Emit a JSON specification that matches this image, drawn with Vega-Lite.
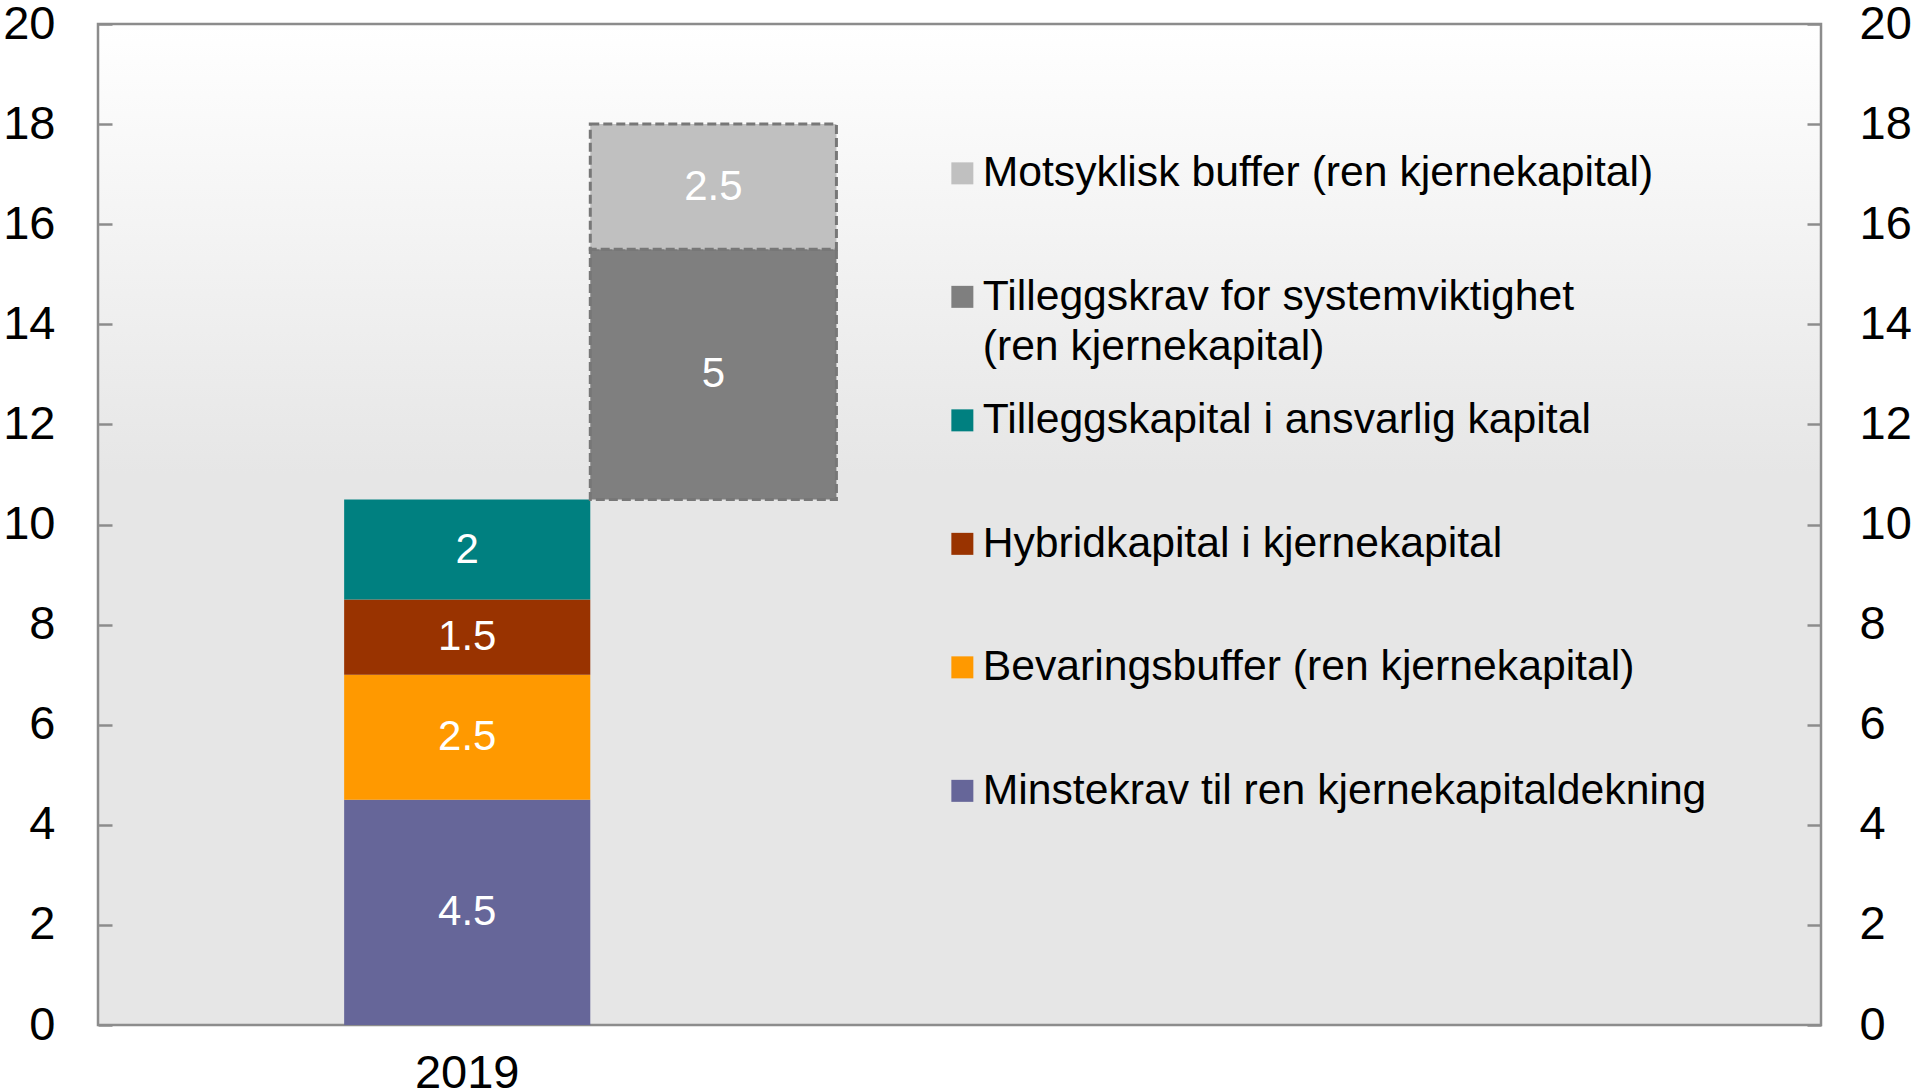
{
  "$schema": "https://vega.github.io/schema/vega-lite/v6.json",
  "autosize": {"type": "none"},
  "padding": {"left": 98, "top": 24, "right": 99, "bottom": 66},
  "width": 1723,
  "height": 1001,
  "background": "#FFFFFF",
  "data": {
    "values": [
      {"kategori": "2019", "serie": "Minstekrav til ren kjernekapitaldekning", "fra": 0, "til": 4.5, "verdi": 4.5},
      {"kategori": "2019", "serie": "Bevaringsbuffer (ren kjernekapital)", "fra": 4.5, "til": 7, "verdi": 2.5},
      {"kategori": "2019", "serie": "Hybridkapital i kjernekapital", "fra": 7, "til": 8.5, "verdi": 1.5},
      {"kategori": "2019", "serie": "Tilleggskapital i ansvarlig kapital", "fra": 8.5, "til": 10.5, "verdi": 2},
      {"kategori": "k2", "serie": "Tilleggskrav for systemviktighet (ren kjernekapital)", "fra": 10.5, "til": 15.5, "verdi": 5},
      {"kategori": "k2", "serie": "Motsyklisk buffer (ren kjernekapital)", "fra": 15.5, "til": 18, "verdi": 2.5}
    ]
  },
  "encoding": {
    "x": {
      "field": "kategori",
      "type": "nominal",
      "scale": {"domain": ["k0", "2019", "k2", "k3", "k4", "k5", "k6"], "paddingInner": 0, "paddingOuter": 0},
      "axis": {
        "title": null,
        "orient": "bottom",
        "ticks": false,
        "domain": false,
        "labelAngle": 0,
        "labelPadding": 25,
        "labelExpr": "datum.value == '2019' ? '2019' : ''"
      }
    }
  },
  "layer": [
    {
      "mark": {"type": "bar", "strokeWidth": 3, "strokeDash": [9, 4]},
      "encoding": {
        "y": {
          "field": "fra",
          "type": "quantitative",
          "scale": {"domain": [0, 20], "nice": false, "zero": true},
          "axis": {
            "title": null,
            "orient": "left",
            "values": [0, 2, 4, 6, 8, 10, 12, 14, 16, 18, 20],
            "grid": false,
            "domain": false,
            "tickSize": -14,
            "labelPadding": 57
          }
        },
        "y2": {"field": "til"},
        "color": {
          "field": "serie",
          "type": "nominal",
          "scale": {
            "domain": [
              "Motsyklisk buffer (ren kjernekapital)",
              "Tilleggskrav for systemviktighet (ren kjernekapital)",
              "Tilleggskapital i ansvarlig kapital",
              "Hybridkapital i kjernekapital",
              "Bevaringsbuffer (ren kjernekapital)",
              "Minstekrav til ren kjernekapitaldekning"
            ],
            "range": ["#C0C0C0", "#7F7F7F", "#008080", "#993300", "#FF9900", "#666699"]
          },
          "legend": {
            "title": null,
            "orient": "none",
            "legendX": 843,
            "legendY": 128,
            "padding": 0,
            "symbolType": "square",
            "symbolSize": 484,
            "symbolStrokeWidth": 0,
            "symbolOffset": 0,
            "labelOffset": -1,
            "labelFontSize": 42.7,
            "labelLimit": 1200,
            "labelBaseline": "middle",
            "rowPadding": 29.5,
            "labelExpr": "datum.label == 'Tilleggskrav for systemviktighet (ren kjernekapital)' ? ['Tilleggskrav for systemviktighet', '(ren kjernekapital)'] : [datum.label, '']"
          }
        },
        "stroke": {
          "condition": {"test": "datum.kategori == 'k2'", "value": "#777777"},
          "value": "transparent"
        }
      }
    },
    {
      "mark": {
        "type": "text",
        "color": "#FFFFFF",
        "fontSize": 42,
        "baseline": "middle",
        "align": "center",
        "dy": {"expr": "(scale('y', datum.fra) - scale('y', datum.til)) / 2"}
      },
      "encoding": {
        "y": {
          "field": "til",
          "type": "quantitative",
          "axis": {
            "title": null,
            "orient": "right",
            "values": [0, 2, 4, 6, 8, 10, 12, 14, 16, 18, 20],
            "grid": false,
            "domain": false,
            "tickSize": -14,
            "labelPadding": 52
          }
        },
        "text": {"field": "verdi", "type": "quantitative"}
      }
    }
  ],
  "resolve": {"axis": {"y": "independent"}},
  "config": {
    "font": "Liberation Sans",
    "view": {
      "stroke": "#8C8C8C",
      "strokeWidth": 2.5,
      "fill": {
        "gradient": "linear",
        "x1": 0, "y1": 0, "x2": 0, "y2": 1,
        "stops": [
          {"offset": 0, "color": "#FFFFFF"},
          {"offset": 0.45, "color": "#E6E6E6"},
          {"offset": 1, "color": "#E6E6E6"}
        ]
      }
    },
    "axis": {
      "labelFont": "Liberation Sans",
      "labelFontSize": 47,
      "labelColor": "#000000",
      "tickColor": "#8C8C8C",
      "tickWidth": 2.5
    },
    "legend": {
      "labelFont": "Liberation Sans",
      "labelColor": "#000000"
    },
    "style": {"guide-label": {"lineHeight": 50}}
  }
}
